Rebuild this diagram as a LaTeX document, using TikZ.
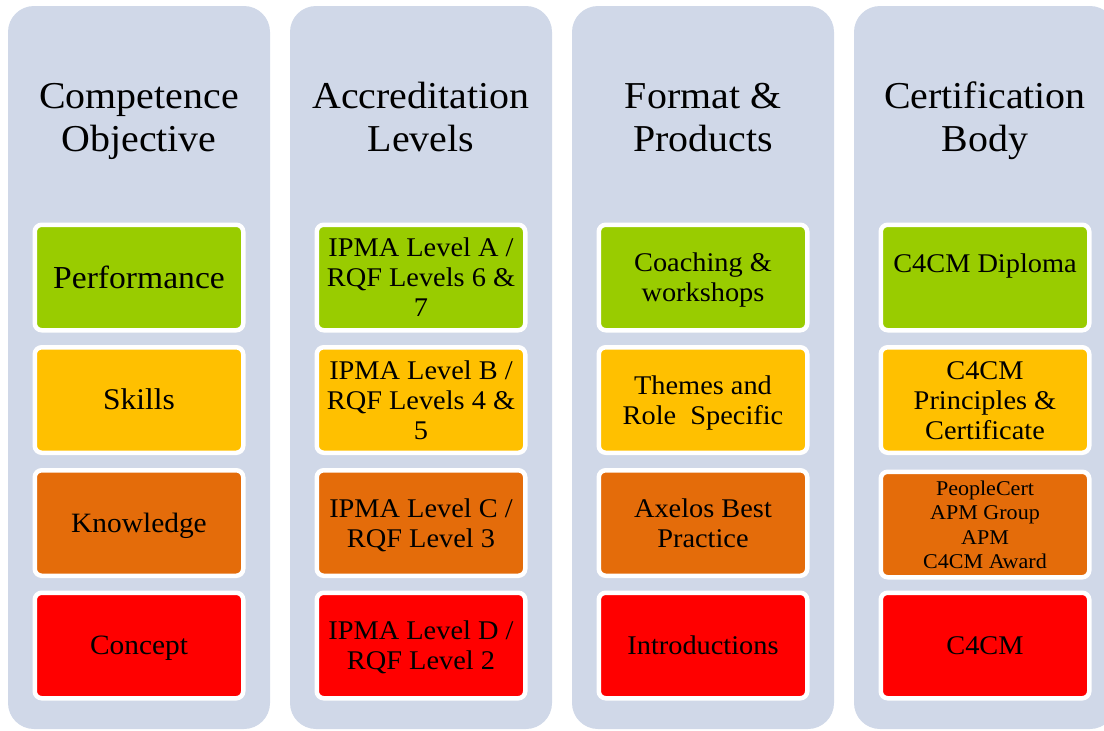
\documentclass[tikz,border=0pt]{standalone}
\usepackage{fontspec}
\setmainfont[FakeStretch=1.05]{Liberation Serif}
\definecolor{colbg}{HTML}{D0D8E8}
\definecolor{cgreen}{HTML}{99CC00}
\definecolor{cyellow}{HTML}{FFC000}
\definecolor{corange}{HTML}{E46C0A}
\definecolor{cred}{HTML}{FF0000}
\newcommand\Ls{\rule[-0.2\baselineskip]{0pt}{\baselineskip}}
\tikzset{
  colpanel/.style={fill=colbg, rounded corners=26pt},
  title/.style={align=center, text=black, inner sep=0pt, font=\fontsize{38}{43}\selectfont},
  cbox/.style={draw=white, line width=4.5pt, rounded corners=7pt,
    minimum width=208.5pt, minimum height=105.5pt, inner sep=0pt,
    align=center, text=black, font=\fontsize{27}{30}\selectfont},
  small/.style={font=\fontsize{21}{24.5}\selectfont},
}
\begin{document}
\begin{tikzpicture}[x=1pt,y=-1pt]
\useasboundingbox (0,0) rectangle (1104,731);
\clip (0,0) rectangle (1104,731);
% column panels
\foreach \i in {0,1,2,3}{
  \fill[colpanel] (8+282*\i,6) rectangle (270+282*\i,729);
}
% titles
\node[title] (t1) at (139,116.6) {\Ls Competence\\\Ls Objective};
\node[title] (t2) at (421,116.6) {\Ls Accreditation\\\Ls Levels};
\node[title] (t3) at (703,116.6) {\Ls Format \&\\\Ls Products};
\node[title] (t4) at (985,116.6) {\Ls Certification\\\Ls Body};
% column 1
\node[cbox, fill=cgreen, font=\fontsize{32}{35}\selectfont] (a1) at (139,277.5) {\Ls Performance};
\node[cbox, fill=cyellow, font=\fontsize{30}{33}\selectfont] (a2) at (139,400) {\Ls Skills};
\node[cbox, fill=corange, font=\fontsize{28}{31}\selectfont] (a3) at (139,523) {\Ls Knowledge};
\node[cbox, fill=cred, font=\fontsize{28}{31}\selectfont] (a4) at (139,645.5) {\Ls Concept};
% column 2
\node[cbox, fill=cgreen] (b1) at (421,277.5) {\Ls IPMA Level A /\\\Ls RQF Levels 6 \&\\\Ls 7};
\node[cbox, fill=cyellow] (b2) at (421,400) {\Ls IPMA Level B /\\\Ls RQF Levels 4 \&\\\Ls 5};
\node[cbox, fill=corange] (b3) at (421,523) {\Ls IPMA Level C /\\\Ls RQF Level 3};
\node[cbox, fill=cred] (b4) at (421,645.5) {\Ls IPMA Level D /\\\Ls RQF Level 2};
% column 3
\node[cbox, fill=cgreen] (c1) at (703,277.5) {\Ls Coaching \&\\\Ls workshops};
\node[cbox, fill=cyellow] (c2) at (703,400) {\Ls Themes and\\\Ls Role\ \ Specific};
\node[cbox, fill=corange] (c3) at (703,523) {\Ls Axelos Best\\\Ls Practice};
\node[cbox, fill=cred] (c4) at (703,645.5) {\Ls Introductions};
% column 4
\node[cbox, fill=cgreen] (d1) at (985,277.5) {};
\node[text=black, font=\fontsize{27}{30}\selectfont] (d1t) at (985,266) {C4CM Diploma};
\node[cbox, fill=cyellow] (d2) at (985,400) {\Ls C4CM\\\Ls Principles \&\\\Ls Certificate};
\node[cbox, fill=corange, small] (d3) at (985,524.5) {\Ls PeopleCert\\\Ls APM Group\\\Ls APM\\\Ls C4CM Award};
\node[cbox, fill=cred] (d4) at (985,645.5) {\Ls C4CM};
\end{tikzpicture}
\end{document}
